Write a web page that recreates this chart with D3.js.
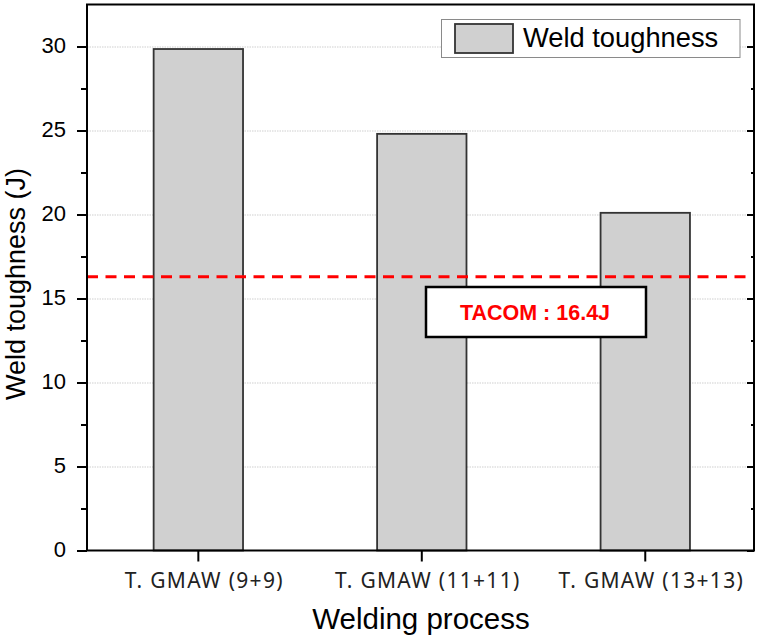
<!DOCTYPE html>
<html>
<head>
<meta charset="utf-8">
<script src="https://cdn.jsdelivr.net/npm/d3@7"></script>
<style>
	body { margin: 0; background: #fff; }
	svg { display: block; }
</style>
</head>
<body>
<script>
// values
const categories = ['T. GMAW (9+9)', 'T. GMAW (11+11)', 'T. GMAW (13+13)'];
const toughness = [29.85, 24.8, 20.1];
const tacomLimit = 16.3;
const tacomLabel = 'TACOM : 16.4J';
const yMajorTicks = [0, 5, 10, 15, 20, 25, 30];
const yMinorTicks = [2.5, 7.5, 12.5, 17.5, 22.5, 27.5];
const legendLabel = 'Weld toughness';

function renderChart() {
	let W = 762, H = 640;
	let frame = {left: 87, right: 754, top: 4.5, bottom: 550.5};

	let svg = d3.select('body').append('svg')
		.attr('width', W)
		.attr('height', H);

	let x = d3.scaleBand()
		.domain(categories)
		.range([86.6, 757])
		.paddingInner(0.6)
		.paddingOuter(0.3);
	let y = d3.scaleLinear()
		.domain([0, 32.5])
		.range([frame.bottom, frame.top]);

	//grid lines behind bars
	let grid = svg.append('g')
		.attr('transform', 'translate(' + frame.left + ',0)')
		.call(d3.axisLeft(y).tickValues(yMajorTicks.slice(1))
			.tickSize(-(frame.right - frame.left)).tickFormat(''));
	grid.select('.domain').remove();
	grid.selectAll('line')
		.attr('stroke', '#cfcfcf')
		.attr('stroke-width', 1)
		.attr('stroke-dasharray', '1.5,1');

	//bars
	svg.append('g').selectAll('rect')
		.data(toughness)
		.join('rect')
		.attr('x', (d, i) => x(categories[i]))
		.attr('y', d => y(d))
		.attr('width', x.bandwidth())
		.attr('height', d => y(0) - y(d))
		.attr('fill', '#d0d0d0')
		.attr('stroke', '#333')
		.attr('stroke-width', 1.8);

	//TACOM line
	svg.append('line')
		.attr('x1', frame.left)
		.attr('x2', frame.right)
		.attr('y1', y(tacomLimit))
		.attr('y2', y(tacomLimit))
		.attr('stroke', '#ff0000')
		.attr('stroke-width', 3)
		.attr('stroke-dasharray', '11,7.5');

	//left axis, major + minor
	let left = svg.append('g')
		.attr('transform', 'translate(' + frame.left + ',0)')
		.call(d3.axisLeft(y).tickValues(yMajorTicks).tickSize(10).tickPadding(11).tickSizeOuter(0));
	left.select('.domain').remove();
	left.selectAll('line').attr('stroke', '#000').attr('stroke-width', 2);
	left.selectAll('text')
		.attr('font-family', '"Liberation Sans", Arial, sans-serif')
		.attr('font-size', 22)
		.attr('fill', '#000')
		.attr('dy', '0.28em');
	let leftMinor = svg.append('g')
		.attr('transform', 'translate(' + frame.left + ',0)')
		.call(d3.axisLeft(y).tickValues(yMinorTicks).tickSize(6).tickFormat(''));
	leftMinor.select('.domain').remove();
	leftMinor.selectAll('line').attr('stroke', '#000').attr('stroke-width', 2);

	//right axis ticks point inward
	let right = svg.append('g')
		.attr('transform', 'translate(' + frame.right + ',0)')
		.call(d3.axisRight(y).tickValues(yMajorTicks).tickSize(-7).tickFormat(''));
	right.select('.domain').remove();
	right.selectAll('line').attr('stroke', '#000').attr('stroke-width', 2);
	let rightMinor = svg.append('g')
		.attr('transform', 'translate(' + frame.right + ',0)')
		.call(d3.axisRight(y).tickValues(yMinorTicks).tickSize(-3).tickFormat(''));
	rightMinor.select('.domain').remove();
	rightMinor.selectAll('line').attr('stroke', '#000').attr('stroke-width', 2);

	//bottom axis
	let bottom = svg.append('g')
		.attr('transform', 'translate(0,' + frame.bottom + ')')
		.call(d3.axisBottom(x).tickSize(11).tickPadding(12).tickSizeOuter(0));
	bottom.select('.domain').remove();
	bottom.selectAll('line').attr('stroke', '#000').attr('stroke-width', 2);
	bottom.selectAll('text')
		.attr('font-family', '"Noto Sans", sans-serif')
		.attr('font-size', 21)
		.attr('letter-spacing', 1.3)
		.attr('fill', '#222')
		.attr('dx', 6);

	//frame
	svg.append('rect')
		.attr('x', frame.left)
		.attr('y', frame.top)
		.attr('width', frame.right - frame.left)
		.attr('height', frame.bottom - frame.top)
		.attr('fill', 'none')
		.attr('stroke', '#000')
		.attr('stroke-width', 2);

	//legend
	let lg = svg.append('g');
	lg.append('rect')
		.attr('x', 441.5).attr('y', 19.5)
		.attr('width', 298.5).attr('height', 38)
		.attr('fill', '#fff')
		.attr('stroke', '#8a8a8a')
		.attr('stroke-width', 1);
	lg.append('rect')
		.attr('x', 455).attr('y', 24)
		.attr('width', 58).attr('height', 29)
		.attr('fill', '#d0d0d0')
		.attr('stroke', '#333')
		.attr('stroke-width', 1.8);
	lg.append('text')
		.attr('x', 523).attr('y', 47)
		.attr('font-family', '"Liberation Sans", Arial, sans-serif')
		.attr('font-size', 27.3)
		.attr('fill', '#000')
		.text(legendLabel);

	//TACOM box
	let tb = svg.append('g');
	tb.append('rect')
		.attr('x', 426).attr('y', 287)
		.attr('width', 220).attr('height', 50)
		.attr('fill', '#fff')
		.attr('stroke', '#000')
		.attr('stroke-width', 2.5);
	tb.append('text')
		.attr('x', 535).attr('y', 319.5)
		.attr('text-anchor', 'middle')
		.attr('font-family', '"Liberation Sans", Arial, sans-serif')
		.attr('font-weight', 'bold')
		.attr('font-size', 21.5)
		.attr('fill', '#ff0000')
		.text(tacomLabel);

	//axis titles
	svg.append('text')
		.attr('transform', 'translate(25,284) rotate(-90)')
		.attr('text-anchor', 'middle')
		.attr('font-family', '"Liberation Sans", Arial, sans-serif')
		.attr('font-size', 27)
		.attr('fill', '#000')
		.text('Weld toughness (J)');
	svg.append('text')
		.attr('x', 421).attr('y', 629)
		.attr('text-anchor', 'middle')
		.attr('font-family', '"Liberation Sans", Arial, sans-serif')
		.attr('font-size', 29.5)
		.attr('fill', '#000')
		.text('Welding process');
}
renderChart();
</script>
</body>
</html>
